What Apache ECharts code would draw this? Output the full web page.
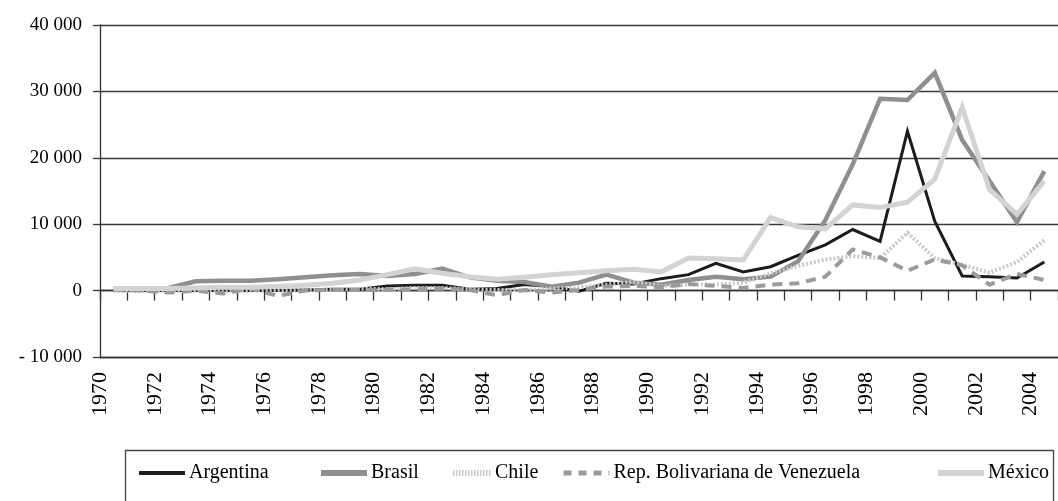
<!DOCTYPE html>
<html>
<head>
<meta charset="utf-8">
<script src="https://cdn.jsdelivr.net/npm/echarts@6/dist/echarts.min.js"></script>
<style>
html,body{margin:0;padding:0;background:#fff;}
#chart{width:1058px;height:501px;}
</style>
</head>
<body>
<div id="chart"></div>
<script>
var years = [1970,1971,1972,1973,1974,1975,1976,1977,1978,1979,
             1980,1981,1982,1983,1984,1985,1986,1987,1988,1989,
             1990,1991,1992,1993,1994,1995,1996,1997,1998,1999,
             2000,2001,2002,2003,2004];
var argentina = [100,0,0,0,0,0,0,100,200,200,
                 700,800,800,200,300,900,600,-100,1100,1000,
                 1800,2400,4100,2800,3600,5300,6900,9200,7400,24000,
                 10400,2200,2100,1900,4300];
var brasil = [300,300,400,1400,1500,1500,1700,2000,2300,2500,
              2200,2500,3300,2000,1500,1300,600,1200,2400,1200,
              900,1600,2100,1700,2100,4400,10600,19000,28900,28700,
              32800,22700,16500,10300,18000];
var chile = [0,-100,0,0,-100,0,0,100,200,300,
             200,400,400,200,100,100,300,500,900,1300,
             700,900,900,1200,2600,3700,4700,5200,4900,8700,
             4900,3900,2700,4300,7600];
var venezuela = [100,0,-300,0,-450,300,-800,0,100,100,
                 100,200,300,100,-700,100,-300,100,600,700,
                 500,1000,700,400,900,1100,2100,6200,5000,3000,
                 4700,3800,900,2500,1600];
var mexico = [300,300,300,400,500,500,600,800,1100,1600,
              2400,3300,2600,2100,1700,2000,2400,2700,3000,3200,
              2800,4900,4800,4600,11000,9600,9300,12900,12500,13300,
              16800,27600,15200,11500,16500];
var names = ['Argentina','Brasil','Chile','Rep. Bolivariana de Venezuela','México'];
var yTicks = [-10000,0,10000,20000,30000,40000];

function pairs(arr){ return arr.map(function(v,i){ return [years[i]+0.5, v]; }); }
function fmtY(v){
  if (v === 0) return '0';
  var a = Math.abs(v);
  var s = String(a).replace(/\B(?=(\d{3})+(?!\d))/g,' ');
  return (v < 0 ? '- ' : '') + s;
}
var FONT = '"Liberation Serif","Times New Roman",serif';
var chart = echarts.init(document.getElementById('chart'), null, {renderer:'canvas'});
var styles = [
  {color:'#1c1c1c', width:3, type:'solid', lw:4},
  {color:'#8f8f8f', width:4.5, type:'solid', lw:6},
  {color:'#c9c9c9', width:4, type:[2,2], lw:6},
  {color:'#9b9b9b', width:4, type:[10,7], lw:5},
  {color:'#d3d3d3', width:5, type:'solid', lw:6}
];
var datas = [argentina, brasil, chile, venezuela, mexico];
var series = names.map(function(n,i){
  return {
    name:n, type:'line', xAxisIndex:0, yAxisIndex:0,
    symbol:'none', smooth:false,
    lineStyle:{color:styles[i].color, width:styles[i].width, type:styles[i].type, cap:'butt', join:'miter'},
    itemStyle:{color:styles[i].color},
    data:pairs(datas[i]), z: 2+i
  };
});
var legendLeft = [137, 318, 450, 561, 935];
var legends = names.map(function(n,i){
  return {
    data:[n], left:legendLeft[i], top:463, padding:0,
    itemWidth: (i===2?38:46), itemHeight:14, itemGap:0,
    itemStyle:{opacity:0},
    lineStyle:{color:styles[i].color, width:styles[i].lw, type:(i===2?[1.5,1.5]:(i===3?[8,7]:'solid')), cap:'butt'},
    textStyle:{fontFamily:FONT, fontSize:20, color:'#000', padding:[0,0,0,-1]},
    selectedMode:false
  };
});
chart.setOption({
  animation:false,
  backgroundColor:'#fff',
  grid:{left:100, right:-12, top:25, bottom:144, containLabel:false},
  xAxis:[
    {type:'value', min:1970, max:2005, interval:1,
     axisLine:{show:true, onZero:true, lineStyle:{color:'#333', width:1.3}},
     axisTick:{show:true, inside:false, length:10, lineStyle:{color:'#333', width:1.3}},
     axisLabel:{show:false}, splitLine:{show:false}},
    {type:'value', min:1970, max:2005, interval:1, position:'bottom',
     axisLine:{show:true, onZero:false, lineStyle:{color:'#333', width:1.3}},
     axisTick:{show:false},
     axisLabel:{show:true, rotate:90, margin:15, fontFamily:FONT, fontSize:22, color:'#000',
       showMinLabel:true, showMaxLabel:true,
       formatter:function(v){ return (Math.abs(v-Math.round(v))<1e-6 && Math.round(v)%2===0 && Math.round(v)<=2004) ? String(Math.round(v)) : ''; }},
     splitLine:{show:false}}
  ],
  yAxis:{type:'value', min:yTicks[0], max:yTicks[yTicks.length-1], interval:10000,
    axisLine:{show:true, lineStyle:{color:'#333', width:1.3}},
    axisTick:{show:true, inside:false, length:7, lineStyle:{color:'#333', width:1.3}},
    axisLabel:{margin:18, fontFamily:FONT, fontSize:19, color:'#000', formatter:fmtY},
    splitLine:{show:true, lineStyle:{color:'#3a3a3a', width:1.3}}},
  legend:legends,
  graphic:[{type:'rect', shape:{x:125.5, y:450.5, width:928, height:70}, style:{fill:'none', stroke:'#444', lineWidth:1.3}, z:-1}],
  series:series
});
</script>
</body>
</html>
